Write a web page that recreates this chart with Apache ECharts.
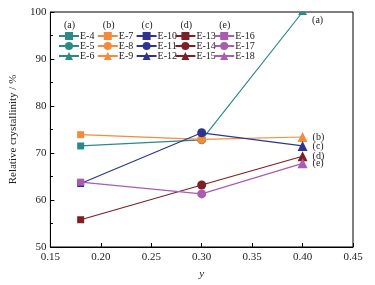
<!DOCTYPE html>
<html>
<head>
<meta charset="utf-8">
<script src="https://cdn.jsdelivr.net/npm/echarts@6/dist/echarts.min.js"></script>
<style>
  html, body { margin: 0; padding: 0; background: #fff; }
  #chart { width: 375px; height: 285px; }
</style>
</head>
<body>
<div id="chart"></div>
<script>
// y values on the x axis
var yValues = [0.18, 0.30, 0.40];
var groupLabels = ['(a)', '(b)', '(c)', '(d)', '(e)'];
var groupNames = [
  ['E-4', 'E-5', 'E-6'],
  ['E-7', 'E-8', 'E-9'],
  ['E-10', 'E-11', 'E-12'],
  ['E-13', 'E-14', 'E-15'],
  ['E-16', 'E-17', 'E-18']
];
// relative crystallinity (%) for each group
var crystA = [71.5, 72.8, 100];
var crystB = [73.9, 72.9, 73.4];
var crystC = [63.5, 74.3, 71.5];
var crystD = [55.8, 63.2, 69.3];
var crystE = [63.8, 61.3, 67.8];
var groupValues = [crystA, crystB, crystC, crystD, crystE];

var colors = ['#2a8a87', '#f58a3c', '#2e3590', '#7f1f25', '#a95cb0'];
var pointSymbols = ['rect', 'circle', 'triangle'];
var symbolSizes = [7, 9, 10];

var serif = 'Liberation Serif';
var series = [];
var legends = [];
var graphics = [];

for (var g = 0; g < 5; g++) {
  var vals = groupValues[g];
  var data = [];
  for (var i = 0; i < yValues.length; i++) {
    var item = {
      value: [yValues[i], vals[i]],
      symbol: pointSymbols[i],
      symbolSize: symbolSizes[i]
    };
    if (i == yValues.length - 1) {
      item.label = {
        show: true,
        position: 'right',
        distance: 5,
        formatter: groupLabels[g],
        color: '#222',
        fontFamily: serif,
        fontSize: 10
      };
      if (g == 0) {
        // top point sits on the frame, only its lower part shows
        item.symbol = 'path://M2,0 L8,0 L10,3 L0,3 Z';
        item.symbolSize = [9, 3];
        item.symbolOffset = [0, 1.5];
        item.label.offset = [0, 7];
      }
    }
    data.push(item);
  }
  series.push({
    name: groupNames[g][0],
    type: 'line',
    symbol: 'rect',
    symbolSize: 7,
    color: colors[g],
    lineStyle: { width: 1.2, color: colors[g] },
    itemStyle: { color: colors[g] },
    data: data,
    z: 2 + g
  });
  // legend-only entries for the circle and triangle samples
  for (var k = 1; k < 3; k++) {
    series.push({
      name: groupNames[g][k],
      type: 'line',
      symbol: pointSymbols[k],
      color: colors[g],
      lineStyle: { width: 1.2, color: colors[g] },
      itemStyle: { color: colors[g] },
      data: []
    });
  }
  legends.push({
    orient: 'vertical',
    left: 58 + g * 38.8,
    top: 31,
    padding: 0,
    itemWidth: 20,
    itemHeight: 10,
    itemGap: 0,
    selectedMode: false,
    textStyle: { fontFamily: serif, fontSize: 10, lineHeight: 9, color: '#222', padding: [0, 0, 0, -4] },
    data: groupNames[g]
  });
  graphics.push({
    type: 'text',
    left: 64 + g * 38.8,
    top: 20,
    style: { text: groupLabels[g], font: '10px "Liberation Serif"', fill: '#222' }
  });
}

var myChart = echarts.init(document.getElementById('chart'));
myChart.setOption({
  backgroundColor: '#fff',
  animation: false,
  grid: {
    left: 43, right: 22, top: 12, bottom: 37,
    show: true, borderColor: '#000', borderWidth: 1
  },
  legend: legends,
  graphic: graphics,
  xAxis: {
    type: 'value',
    min: 0.15, max: 0.45, interval: 0.05,
    name: 'y',
    nameLocation: 'middle',
    nameGap: 22,
    nameTextStyle: { fontFamily: serif, fontStyle: 'italic', fontSize: 11, color: '#222' },
    axisLine: { lineStyle: { color: '#000', width: 1 } },
    axisTick: { inside: true, length: 4, lineStyle: { color: '#000' } },
    axisLabel: {
      fontFamily: serif, fontSize: 11, color: '#222', margin: 5,
      formatter: function (v) { return v.toFixed(2); }
    },
    splitLine: { show: false }
  },
  yAxis: {
    type: 'value',
    min: 50, max: 100, interval: 10,
    name: 'Relative crystallinity / %',
    nameLocation: 'middle',
    nameGap: 28,
    nameTextStyle: { fontFamily: serif, fontSize: 11, color: '#222' },
    axisLine: { lineStyle: { color: '#000', width: 1 } },
    axisTick: { inside: true, length: 4, lineStyle: { color: '#000' } },
    minorTick: { show: true, splitNumber: 2, length: 2.5, lineStyle: { color: '#000' } },
    axisLabel: { fontFamily: serif, fontSize: 11, color: '#222', margin: 4 },
    splitLine: { show: false }
  },
  series: series
});
</script>
</body>
</html>
